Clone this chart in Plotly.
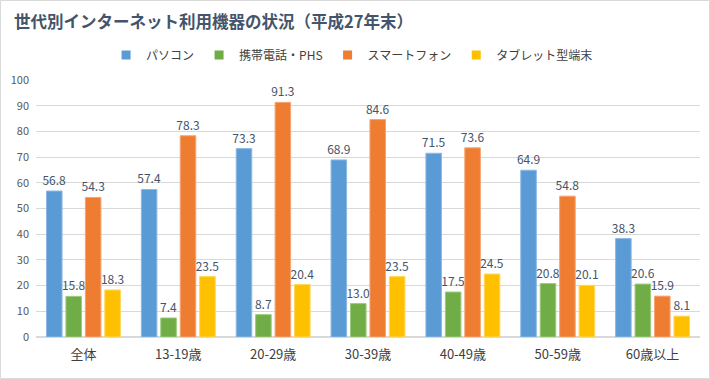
import plotly.graph_objects as go

categories = ["全体", "13-19歳", "20-29歳", "30-39歳", "40-49歳", "50-59歳", "60歳以上"]
series_names = ["パソコン", "携帯電話・PHS", "スマートフォン", "タブレット型端末"]
pc = [56.8, 57.4, 73.3, 68.9, 71.5, 64.9, 38.3]
mobile = [15.8, 7.4, 8.7, 13.0, 17.5, 20.8, 20.6]
smartphone = [54.3, 78.3, 91.3, 84.6, 73.6, 54.8, 15.9]
tablet = [18.3, 23.5, 20.4, 23.5, 24.5, 20.1, 8.1]
y_ticks = [0, 10, 20, 30, 40, 50, 60, 70, 80, 90, 100]

colors = ["#5B9BD5", "#70AD47", "#EE7D31", "#FFC000"]
line_colors = ["#8DB9E6", "#9BCB7B", "#F4A574", "#FFD65C"]

W, H = 710, 379
ML, MR, MT, MB = 36, 10, 80, 42
pw = W - ML - MR
ph = H - MT - MB

FONT = "Noto Sans CJK JP"

fig = go.Figure()
for name, vals, c, lc in zip(series_names, [pc, mobile, smartphone, tablet], colors, line_colors):
    fig.add_trace(go.Bar(
        x=categories, y=vals, name=name, legendgroup=name, showlegend=False,
        marker=dict(color=c, line=dict(color=lc, width=1)),
        text=[f"{v:.1f}" for v in vals], textposition="outside",
        constraintext="none",
        textfont=dict(family=FONT, size=12, color="#44546A"),
        cliponaxis=False,
    ))
# legend entries with small square swatches
for name, c in zip(series_names, colors):
    fig.add_trace(go.Scatter(
        x=[None], y=[None], mode="markers", name=name, legendgroup=name,
        marker=dict(symbol="square", size=9, color=c, line=dict(width=0)),
        showlegend=True, hoverinfo="skip",
    ))

fig.update_layout(
    width=W, height=H,
    margin=dict(l=ML, r=MR, t=MT, b=MB, autoexpand=False),
    paper_bgcolor="white", plot_bgcolor="white",
    barmode="group", bargap=0.18, bargroupgap=0.2,
    font=dict(family=FONT, color="#595959"),
    title=dict(text="<b>世代別インターネット利用機器の状況（平成27年末）</b>",
               x=14 / W, xanchor="left", xref="container",
               y=1 - 22 / H, yanchor="middle", yref="container",
               font=dict(family=FONT, size=16.5, color="#44546A")),
    legend=dict(orientation="h", x=0.476, xanchor="center", y=1 + 25 / ph, yanchor="middle",
                font=dict(family=FONT, size=12, color="#404040"), itemwidth=30,
                traceorder="normal", itemclick=False, itemdoubleclick=False),
    xaxis=dict(tickfont=dict(family=FONT, size=13, color="#404040"), showline=False,
               ticks="", ticklabelstandoff=8, automargin=False),
    yaxis=dict(range=[0, 100], tickvals=y_ticks, showgrid=True, gridcolor="#D9D9D9",
               zeroline=True, zerolinecolor="#D9D9D9",
               tickfont=dict(family=FONT, size=11, color="#595959"),
               ticks="", ticklabelstandoff=6, automargin=False),
    showlegend=True,
)

fig.add_shape(type="rect", xref="paper", yref="paper",
              x0=-(ML - 0.5) / pw, x1=1 + (MR - 0.5) / pw,
              y0=-(MB - 0.5) / ph, y1=1 + (MT - 0.5) / ph,
              line=dict(color="#D9D9D9", width=1), fillcolor="rgba(0,0,0,0)", layer="below")

fig.write_html("out.html", config={"displayModeBar": False},
               post_script="document.body.style.margin='0';document.body.style.overflow='hidden';")
